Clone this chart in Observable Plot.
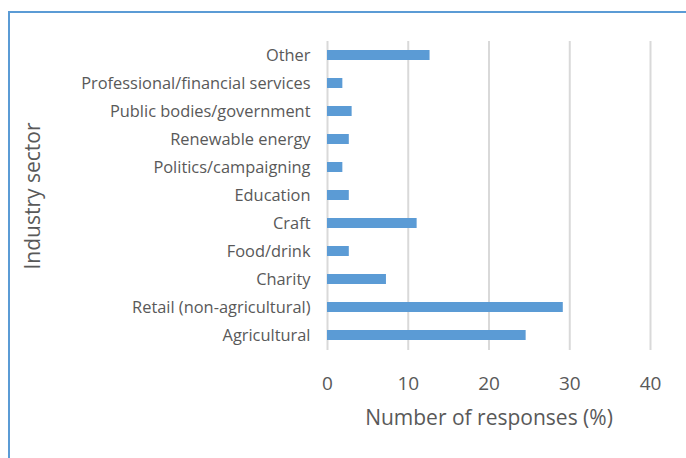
<!DOCTYPE html>
<html>
<head>
<meta charset="utf-8">
<script src="https://cdn.jsdelivr.net/npm/d3@7"></script>
<script src="https://cdn.jsdelivr.net/npm/@observablehq/plot@0.6"></script>
<style>
  html, body { margin: 0; padding: 0; background: #fff; overflow: hidden; }
  #wrap { position: relative; width: 686px; height: 458px; }
  #frame { position: absolute; left: 8px; top: 11px; width: 700px; height: 470px;
           border: 2px solid #5b9bd5; box-sizing: border-box; pointer-events: none; }
  svg { font-family: "Open Sans", sans-serif; }
</style>
</head>
<body>
<div id="wrap"><div id="frame"></div></div>
<script>
const sectors = ["Other", "Professional/financial services", "Public bodies/government",
  "Renewable energy", "Politics/campaigning", "Education", "Craft", "Food/drink",
  "Charity", "Retail (non-agricultural)", "Agricultural"];
const responses = [12.7, 1.9, 3.05, 2.7, 1.9, 2.7, 11.1, 2.7, 7.3, 29.2, 24.6];
const xTicks = [0, 10, 20, 30, 40];

const data = sectors.map((s, i) => ({sector: s, value: responses[i]}));

const chart = Plot.plot({
  width: 686,
  height: 458,
  marginLeft: 327,
  marginRight: 36,
  marginTop: 41,
  marginBottom: 108,
  style: {fontFamily: "'Open Sans', sans-serif", color: "#595959", background: "transparent"},
  x: {domain: [0, 40], ticks: xTicks, label: null},
  y: {domain: sectors, label: null, paddingInner: 0.64, paddingOuter: 0.32},
  marks: [
    Plot.gridX(xTicks, {stroke: "#d9d9d9", strokeWidth: 2, strokeOpacity: 1}),
    Plot.barX(data, {x: "value", y: "sector", fill: "#5b9bd5"}),
    Plot.axisX({ticks: xTicks, tickSize: 0, tickPadding: 26, fontSize: 19, fill: "#595959", label: null}),
    Plot.axisY({tickSize: 0, tickPadding: 17, fontSize: 16.4, fill: "#595959", label: null}),
    Plot.text(["Number of responses (%)"], {frameAnchor: "bottom", lineAnchor: "middle", dy: 68, fontSize: 21, fill: "#595959"}),
    Plot.text(["Industry sector"], {frameAnchor: "left", textAnchor: "middle", lineAnchor: "middle", dx: -294, rotate: -90, fontSize: 21, fill: "#595959"})
  ]
});
document.getElementById("wrap").prepend(chart);
</script>
</body>
</html>
